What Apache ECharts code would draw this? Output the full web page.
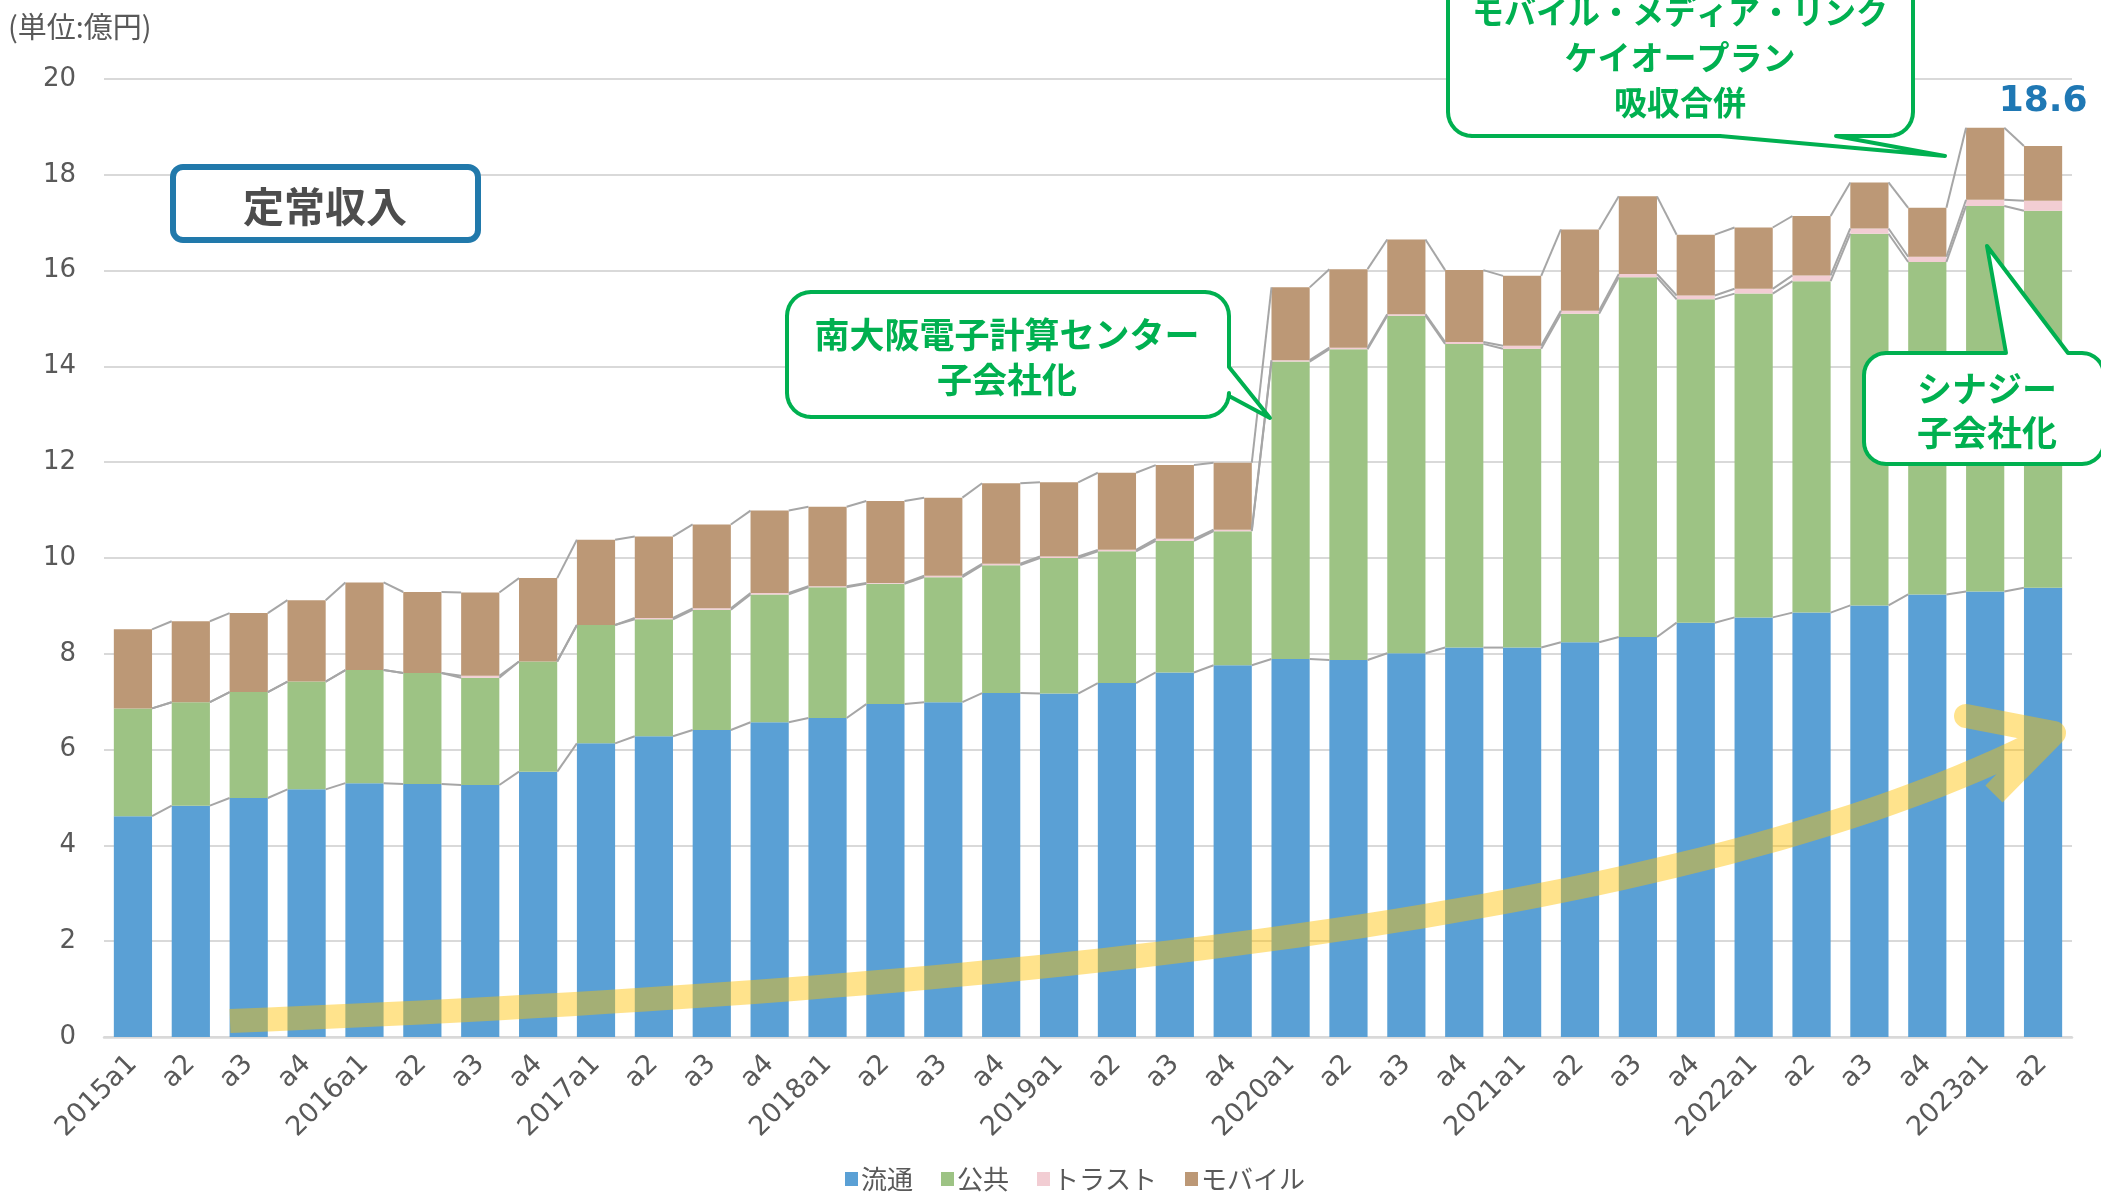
<!DOCTYPE html>
<html>
<head>
<meta charset="utf-8">
<script src="https://cdn.jsdelivr.net/npm/echarts@6/dist/echarts.min.js"></script>
<style>
  html, body { margin: 0; padding: 0; background: #ffffff; }
  #chart { width: 2101px; height: 1197px; }
</style>
</head>
<body>
<div id="chart"></div>
<script>
// Quarterly recurring revenue by segment (unit: 100 million yen)
const categories = [
  '2015a1', 'a2', 'a3', 'a4',
  '2016a1', 'a2', 'a3', 'a4',
  '2017a1', 'a2', 'a3', 'a4',
  '2018a1', 'a2', 'a3', 'a4',
  '2019a1', 'a2', 'a3', 'a4',
  '2020a1', 'a2', 'a3', 'a4',
  '2021a1', 'a2', 'a3', 'a4',
  '2022a1', 'a2', 'a3', 'a4',
  '2023a1', 'a2'
];

const ryutsu = [
  4.61, 4.83, 4.99, 5.17, 5.30, 5.28, 5.26, 5.54,
  6.13, 6.28, 6.41, 6.57, 6.66, 6.95, 6.99, 7.18,
  7.17, 7.39, 7.61, 7.76, 7.89, 7.87, 8.01, 8.13,
  8.13, 8.24, 8.35, 8.65, 8.76, 8.86, 9.01, 9.24,
  9.30, 9.38
];

const kokyo = [
  2.25, 2.16, 2.21, 2.25, 2.36, 2.32, 2.24, 2.30,
  2.47, 2.44, 2.51, 2.67, 2.73, 2.51, 2.61, 2.67,
  2.83, 2.75, 2.75, 2.80, 6.21, 6.49, 7.05, 6.34,
  6.24, 6.86, 7.51, 6.75, 6.76, 6.92, 7.76, 6.94,
  8.05, 7.87
];

const trust = [
  0, 0, 0, 0, 0, 0, 0.04, 0,
  0, 0.03, 0.03, 0.03, 0.02, 0.02, 0.03, 0.03,
  0.03, 0.03, 0.04, 0.03, 0.03, 0.03, 0.03, 0.04,
  0.06, 0.06, 0.07, 0.08, 0.10, 0.12, 0.11, 0.11,
  0.13, 0.21
];

const mobile = [
  1.65, 1.69, 1.65, 1.70, 1.83, 1.69, 1.74, 1.74,
  1.78, 1.70, 1.75, 1.72, 1.66, 1.71, 1.63, 1.68,
  1.55, 1.61, 1.54, 1.40, 1.52, 1.64, 1.56, 1.50,
  1.46, 1.70, 1.62, 1.27, 1.28, 1.24, 0.96, 1.02,
  1.50, 1.14
];

const seriesNames = ['流通', '公共', 'トラスト', 'モバイル'];
const seriesColors = ['#5aa0d5', '#9dc384', '#f2cdd3', '#bc9876'];
const yMin = 0, yMax = 20, yStep = 2;

const BAR_GAP = 34;               // barCategoryGap in percent
const BAR_RATIO = 1 - BAR_GAP / 100;
const CJK = '"Noto Sans CJK JP", "Noto Sans", sans-serif';
const LATIN = '"DejaVu Sans", sans-serif';
const GREEN = '#00b050';

const levels = [ryutsu, kokyo, trust, mobile];

// running stack tops for the connector lines
const stackTops = [];
let running = categories.map(() => 0);
levels.forEach(arr => {
  running = running.map((v, i) => v + arr[i]);
  stackTops.push(running.slice());
});
const lastIndex = categories.length - 1;
const lastTotal = stackTops[stackTops.length - 1][lastIndex];

const connectorData = [];
stackTops.forEach(tops => {
  for (let i = 0; i < tops.length - 1; i++) connectorData.push([i, tops[i], tops[i + 1]]);
});

const barSeries = levels.map((arr, k) => ({
  name: seriesNames[k],
  type: 'bar',
  stack: 'total',
  barCategoryGap: BAR_GAP + '%',
  itemStyle: { color: seriesColors[k] },
  emphasis: { disabled: true },
  z: 2,
  data: arr.map((v, i) => {
    if (k === levels.length - 1 && i === lastIndex) {
      return {
        value: v,
        label: {
          show: true,
          position: 'top',
          distance: 26,
          formatter: lastTotal.toFixed(1),
          color: '#1f78b4',
          fontSize: 36,
          fontWeight: 'bold',
          fontFamily: LATIN
        }
      };
    }
    return v;
  })
}));

// series lines joining each stack level between neighbouring bars
const connectorSeries = {
  type: 'custom',
  name: 'connector',
  silent: true,
  z: 3,
  encode: { x: 0, y: 1 },
  data: connectorData,
  renderItem(params, api) {
    const i = api.value(0);
    const a = api.coord([i, api.value(1)]);
    const b = api.coord([i + 1, api.value(2)]);
    const half = api.size([1, 0])[0] * BAR_RATIO / 2;
    return {
      type: 'line',
      shape: { x1: a[0] + half, y1: a[1], x2: b[0] - half, y2: b[1] },
      style: { stroke: '#a6a6a6', lineWidth: 2 }
    };
  }
};

// speech bubble outline: rounded box with a pointed tail on one edge
function bubblePoints(x, y, w, h, r, tail) {
  const pts = [];
  const arc = (cx, cy, a0, a1) => {
    const n = 8;
    for (let j = 0; j <= n; j++) {
      const a = (a0 + (a1 - a0) * j / n) * Math.PI / 180;
      pts.push([cx + r * Math.cos(a), cy + r * Math.sin(a)]);
    }
  };
  if (tail.edge === 'top') { pts.push([tail.a, y], tail.tip, [tail.b, y]); }
  arc(x + w - r, y + r, -90, 0);
  if (tail.edge === 'right') { pts.push([x + w, tail.a], tail.tip, [x + w, tail.b]); }
  arc(x + w - r, y + h - r, 0, 90);
  if (tail.edge === 'bottom') { pts.push([tail.b, y + h], tail.tip, [tail.a, y + h]); }
  arc(x + r, y + h - r, 90, 180);
  arc(x + r, y + r, 180, 270);
  return pts;
}

function bubble(x, y, w, h, r, tail) {
  return {
    type: 'polygon',
    z: 60,
    silent: true,
    shape: { points: bubblePoints(x, y, w, h, r, tail) },
    style: { fill: '#ffffff', stroke: GREEN, lineWidth: 4, lineJoin: 'round' }
  };
}

function label(text, x, y, size, color, weight) {
  return {
    type: 'text',
    z: 61,
    silent: true,
    x: x,
    y: y,
    style: {
      text: text,
      fill: color,
      font: (weight || 'bold') + ' ' + size + 'px ' + CJK,
      textAlign: 'center',
      textVerticalAlign: 'middle',
      align: 'center',
      verticalAlign: 'middle'
    }
  };
}

// growth arrow: cubic curve sampled into one polyline, finished with an open head
function growthArrow() {
  const p0 = [230, 1021], p1 = [1000, 990], p2 = [1700, 920], p3 = [2054, 733];
  const pts = [];
  const n = 60;
  for (let j = 0; j <= n; j++) {
    const t = j / n, u = 1 - t;
    const c0 = u * u * u, c1 = 3 * u * u * t, c2 = 3 * u * t * t, c3 = t * t * t;
    pts.push([
      c0 * p0[0] + c1 * p1[0] + c2 * p2[0] + c3 * p3[0],
      c0 * p0[1] + c1 * p1[1] + c2 * p2[1] + c3 * p3[1]
    ]);
  }
  pts.push([1966, 716], [2054, 733], [1994, 794]);
  return {
    type: 'polyline',
    z: 50,
    silent: true,
    shape: { points: pts },
    style: {
      stroke: 'rgba(255, 192, 0, 0.45)',
      lineWidth: 24,
      lineJoin: 'round',
      lineCap: 'butt',
      fill: null
    }
  };
}

const chart = echarts.init(document.getElementById('chart'), null, { renderer: 'canvas' });

chart.setOption({
  backgroundColor: '#ffffff',
  animation: false,
  grid: { left: 104, right: 29, top: 79, bottom: 160, containLabel: false },
  legend: {
    data: seriesNames,
    left: 840,
    bottom: 0,
    icon: 'rect',
    itemWidth: 13,
    itemHeight: 14,
    itemGap: 28,
    selectedMode: false,
    textStyle: { fontSize: 26, color: '#595959', fontFamily: CJK, padding: [0, 0, 0, -2] }
  },
  xAxis: {
    type: 'category',
    data: categories,
    boundaryGap: true,
    axisTick: { show: false },
    axisLine: { show: true, lineStyle: { color: '#d9d9d9', width: 2.5 } },
    axisLabel: {
      interval: 0,
      rotate: 45,
      margin: 23,
      fontSize: 27,
      color: '#595959',
      fontFamily: LATIN
    }
  },
  yAxis: {
    type: 'value',
    min: yMin,
    max: yMax,
    interval: yStep,
    axisLine: { show: false },
    axisTick: { show: false },
    axisLabel: { margin: 28, fontSize: 26, color: '#595959', fontFamily: LATIN },
    splitLine: { lineStyle: { color: '#d9d9d9', width: 2 } }
  },
  series: [...barSeries, connectorSeries],
  graphic: {
    elements: [
      {
        type: 'text',
        z: 61,
        silent: true,
        x: 8,
        y: 27,
        style: {
          text: '(単位:億円)',
          fill: '#595959',
          font: '29px ' + CJK,
          textAlign: 'left',
          textVerticalAlign: 'middle',
          align: 'left',
          verticalAlign: 'middle'
        }
      },
      {
        type: 'rect',
        z: 60,
        silent: true,
        shape: { x: 173, y: 167, width: 305, height: 73, r: 10 },
        style: { fill: '#ffffff', stroke: '#2179ab', lineWidth: 6 }
      },
      label('定常収入', 325, 206, 41, '#4d4d4d', 'bold'),

      growthArrow(),

      bubble(787, 292, 442, 125, 24, { edge: 'right', a: 367, b: 396, tip: [1270, 418] }),
      label('南大阪電子計算センター', 1007, 335, 35, GREEN),
      label('子会社化', 1007, 380, 35, GREEN),

      bubble(1448, -40, 465, 176, 24, { edge: 'bottom', a: 1720, b: 1836, tip: [1945, 156] }),
      label('モバイル・メディア・リンク', 1680, 12, 32, GREEN),
      label('ケイオープラン', 1680, 57, 33, GREEN),
      label('吸収合併', 1680, 102, 33, GREEN),

      bubble(1864, 353, 240, 111, 22, { edge: 'top', a: 2006, b: 2068, tip: [1987, 246] }),
      label('シナジー', 1987, 389, 35, GREEN),
      label('子会社化', 1987, 433, 35, GREEN)
    ]
  }
});
</script>
</body>
</html>
